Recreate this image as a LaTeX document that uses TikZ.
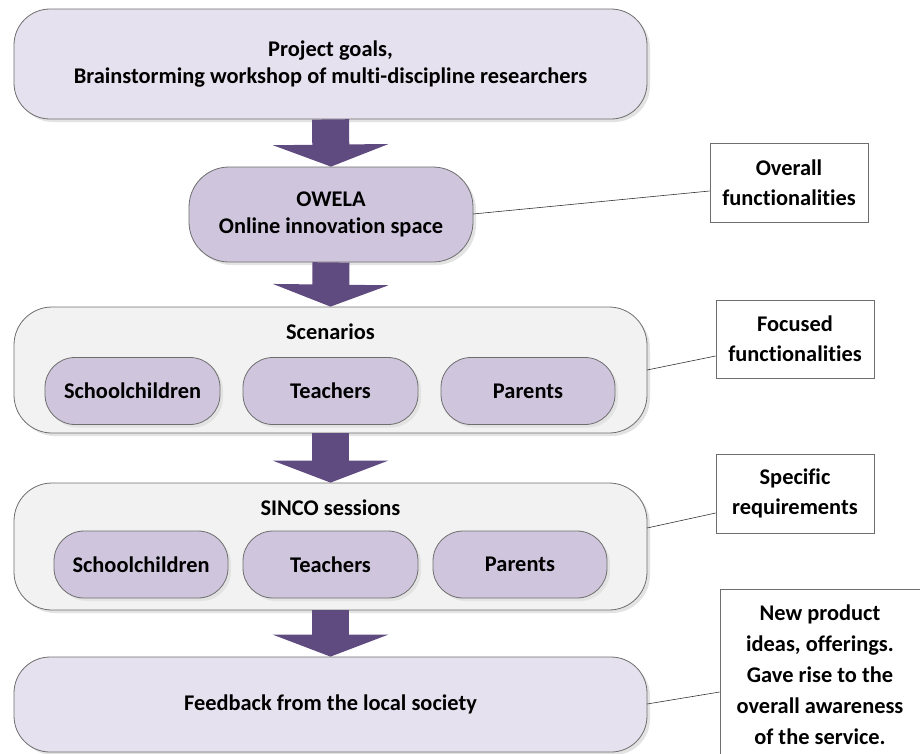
\documentclass[tikz,border=0pt]{standalone}
\usepackage{fontspec}
\setmainfont{Carlito}[Ligatures={NoCommon}]
\usetikzlibrary{arrows.meta,shadows}
\definecolor{lav}{HTML}{E5E1EE}
\definecolor{lavmid}{HTML}{CFC6DD}
\definecolor{contfill}{HTML}{F2F2F2}
\definecolor{arrowcol}{HTML}{5F4B7F}
\definecolor{edgecol}{HTML}{6E6E6E}
\definecolor{shadowcol}{HTML}{E3E3E3}
\tikzset{
  base/.style={draw=edgecol, line width=0.8pt, font=\bfseries\fontsize{22.4}{27}\selectfont, align=center, inner sep=0pt,
    drop shadow={shadow xshift=3pt, shadow yshift=-3pt, fill=shadowcol, opacity=1}},
  bigbox/.style={base, fill=lav, minimum width=633pt, rounded corners=36pt},
  owelabox/.style={base, fill=lavmid, minimum width=284pt, minimum height=95pt, rounded corners=40pt},
  contbox/.style={base, fill=contfill, minimum width=633pt, rounded corners=38pt},
  pill/.style={base, fill=lavmid, minimum height=67pt, rounded corners=30pt},
  note/.style={draw=edgecol, line width=0.8pt, fill=white, font=\bfseries\fontsize{22.4}{30}\selectfont, align=center, inner sep=0pt},
  blockarrow/.style={color=arrowcol, line width=37pt, -{Triangle[width=115pt,length=22pt]}},
  link/.style={draw=black!80, line width=0.6pt},
  lbl/.style={font=\bfseries\fontsize{22.4}{27}\selectfont, inner sep=0pt}
}
\begin{document}
\begin{tikzpicture}[x=1pt,y=-1pt]
\useasboundingbox (0,0) rectangle (920,753);
% main boxes
\node[bigbox, minimum height=110pt] (top) at (330.5,64) {Project goals,\\Brainstorming workshop of multi-discipline researchers};
\node[owelabox] (owela) at (331,214.5) {OWELA\\Online innovation space};
\node[contbox, minimum height=126pt] (scen) at (330.5,370) {};
\node[lbl] (scentitle) at (330.5,332) {Scenarios};
\node[pill, minimum width=175pt] (s1) at (132.5,391) {Schoolchildren};
\node[pill, minimum width=175pt] (s2) at (330.5,391) {Teachers};
\node[pill, minimum width=174pt] (s3) at (528,391) {Parents};
\node[contbox, minimum height=127pt] (sinco) at (330.5,546.5) {};
\node[lbl] (sincotitle) at (330.5,508) {SINCO sessions};
\node[pill, minimum width=174pt] (t1) at (141,564.5) {Schoolchildren};
\node[pill, minimum width=175pt] (t2) at (330.5,564.5) {Teachers};
\node[pill, minimum width=174pt] (t3) at (520,564.5) {Parents};
\node[bigbox, minimum height=95pt] (feed) at (330.5,704.5) {Feedback from the local society};
% block arrows
\draw[blockarrow] (top.south) -- (owela.north);
\draw[blockarrow] (owela.south) -- (scen.north);
\draw[blockarrow] (scen.south) -- (sinco.north);
\draw[blockarrow] (sinco.south) -- (feed.north);
% notes
\node[note, minimum width=158pt, minimum height=79pt] (n1) at (789,182.5) {Overall\\functionalities};
\node[note, minimum width=158pt, minimum height=78pt] (n2) at (795,339) {Focused\\functionalities};
\node[note, minimum width=158pt, minimum height=79pt] (n3) at (795,493.5) {Specific\\requirements};
\node[note, minimum width=201pt, minimum height=168pt] (n4) at (820.5,673) {};
\node[lbl, font=\bfseries\fontsize{22.4}{31}\selectfont, align=center] (n4t) at (820,675) {New product\\ideas, offerings.\\Gave rise to the\\overall awareness\\of the service.};
% links
\coordinate (o1) at (473,214);
\coordinate (o2) at (647,370);
\coordinate (o3) at (647,528);
\coordinate (o4) at (647,704);
\draw[link] (o1) -- (n1.west |- 0,191);
\draw[link] (o2) -- (n2.west |- 0,356);
\draw[link] (o3) -- (n3.west |- 0,513);
\draw[link] (o4) -- (n4.west |- 0,692);
\end{tikzpicture}
\end{document}
